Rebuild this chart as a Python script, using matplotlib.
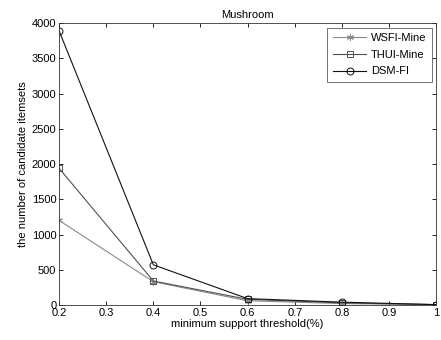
import matplotlib
matplotlib.use("Agg")
import matplotlib.pyplot as plt

plt.rcParams['font.family'] = ['Liberation Sans', 'DejaVu Sans']

thresholds = [0.2, 0.4, 0.6, 0.8, 1.0]
wsfi = [1200, 330, 60, 20, 5]
thui = [1940, 340, 80, 30, 5]
dsm = [3890, 570, 90, 40, 5]
xticks = [0.2, 0.3, 0.4, 0.5, 0.6, 0.7, 0.8, 0.9, 1.0]
xticklabels = ['0.2', '0.3', '0.4', '0.5', '0.6', '0.7', '0.8', '0.9', '1']
yticks = [0, 500, 1000, 1500, 2000, 2500, 3000, 3500, 4000]

fig = plt.figure(figsize=(4.41, 3.40), dpi=100)
ax = fig.add_axes([0.134, 0.103, 0.855, 0.829])

ax.plot(thresholds, wsfi, color='#8a8a8a', lw=0.8, marker=(6, 2, 0), ms=5, mec='#8a8a8a', mew=0.7, label='WSFI-Mine')
ax.plot(thresholds, thui, color='#505050', lw=0.8, marker='s', ms=5, mfc='none', mec='#505050', mew=0.7, label='THUI-Mine')
ax.plot(thresholds, dsm, color='#111111', lw=0.8, marker='o', ms=5, mfc='none', mec='#111111', mew=0.7, label='DSM-FI')

ax.set_xlim(0.2, 1.0)
ax.set_ylim(0, 4000)
ax.set_xticks(xticks)
ax.set_xticklabels(xticklabels)
ax.set_yticks(yticks)
ax.tick_params(direction='in', top=True, right=True, labelsize=8, length=3, width=0.6, pad=2)
for s in ax.spines.values():
    s.set_linewidth(0.6)
    s.set_color('#333333')

ax.set_title('Mushroom', fontsize=8, pad=4)
ax.set_xlabel('minimum support threshold(%)', fontsize=8, labelpad=1)
ax.set_ylabel('the number of candidate itemsets', fontsize=8, labelpad=3)

leg = ax.legend(loc='upper right', fontsize=8, frameon=True, fancybox=False, edgecolor='#333333',
                handlelength=3.0, borderpad=0.5, labelspacing=0.6, handletextpad=0.4, borderaxespad=0.4)
leg.get_frame().set_linewidth(0.6)

fig.savefig('out.png', dpi=100)
